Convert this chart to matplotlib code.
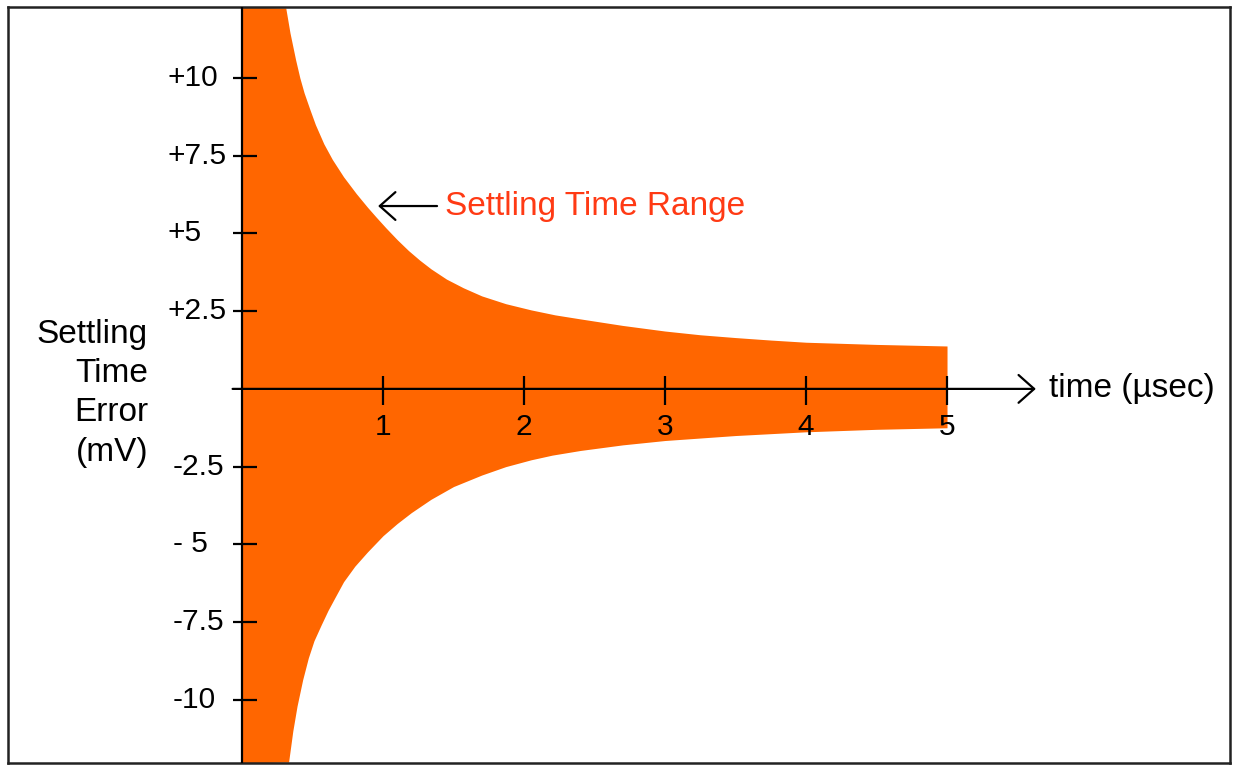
import matplotlib
matplotlib.use("Agg")
import matplotlib.pyplot as plt
import numpy as np

# ---- data ----
upper_t = [0.0, 0.31, 0.34, 0.38, 0.41, 0.44, 0.48, 0.52, 0.58, 0.64, 0.72,
           0.81, 0.89, 0.95, 1.02, 1.10, 1.18, 1.26, 1.34, 1.45, 1.57, 1.70,
           1.87, 2.05, 2.22, 2.40, 2.70, 3.0, 3.25, 3.5, 3.75, 4.0, 4.5, 5.0]
upper_v = [12.28, 12.25, 11.45, 10.58, 10.0, 9.52, 9.0, 8.5, 7.88, 7.38, 6.82,
           6.28, 5.84, 5.53, 5.18, 4.80, 4.45, 4.14, 3.86, 3.53, 3.25, 2.99,
           2.74, 2.54, 2.38, 2.25, 2.04, 1.86, 1.74, 1.65, 1.57, 1.50, 1.43, 1.38]
lower_t = [0.0, 0.33, 0.36, 0.39, 0.43, 0.47, 0.51, 0.56, 0.61, 0.66, 0.72,
           0.80, 0.89, 1.0, 1.1, 1.2, 1.34, 1.5, 1.7, 1.87, 2.05, 2.2, 2.4,
           2.7, 3.0, 3.5, 4.0, 4.5, 5.0]
lower_v = [-12.03, -12.0, -11.0, -10.2, -9.35, -8.65, -8.1, -7.6, -7.12, -6.7, -6.2,
           -5.7, -5.24, -4.72, -4.33, -3.98, -3.55, -3.14, -2.77, -2.50, -2.28, -2.13, -1.98,
           -1.80, -1.66, -1.5, -1.38, -1.3, -1.25]

x_ticks = [1, 2, 3, 4, 5]
x_tick_labels = ["1", "2", "3", "4", "5"]
y_ticks = [10, 7.5, 5, 2.5, -2.5, -5, -7.5, -10]
y_tick_labels = ["+10", "+7.5", "+5", "+2.5", "-2.5", "- 5", "-7.5", "-10"]

x_label = "time (\u00b5sec)"
y_label = "Settling\nTime\nError\n(mV)"
annotation = "Settling Time Range"

FILL = "#ff6600"
RED = "#ff3a14"
FONT = "Liberation Sans"

fig = plt.figure(figsize=(12.41, 7.65), dpi=100)
ax = fig.add_axes([8 / 1241, 2 / 765, 1222 / 1241, 756 / 765])
ax.set_xlim(-1.66, 7.007)
ax.set_ylim(-12.03, 12.28)
ax.set_xticks([])
ax.set_yticks([])
for s in ax.spines.values():
    s.set_linewidth(1.8)
    s.set_color("#222222")

# filled envelope
tt = np.union1d(upper_t, lower_t)
up = np.interp(tt, upper_t, upper_v)
lo = np.interp(tt, lower_t, lower_v)
ax.fill_between(tt, lo, up, color=FILL, linewidth=0, zorder=1)

# axes lines
ax.axvline(0, color="black", lw=1.6, zorder=3)
ax.annotate("", xy=(5.63, 0), xytext=(-0.067, 0),
            arrowprops=dict(arrowstyle="->,head_length=0.45,head_width=0.4",
                            lw=1.6, color="black", shrinkA=0, shrinkB=0,
                            mutation_scale=25), zorder=3)

# ticks
ax.hlines(y_ticks, -0.067, 0.108, color="black", lw=1.6, zorder=3)
ax.vlines(x_ticks, -0.51, 0.42, color="black", lw=1.6, zorder=3)

for v, lab in zip(y_ticks, y_tick_labels):
    xpos = -0.532 if v > 0 else -0.489
    ax.text(xpos, v, lab, ha="left", va="center", fontsize=21.5,
            family=FONT, color="black")
for t, lab in zip(x_ticks, x_tick_labels):
    ax.text(t, -1.22, lab, ha="center", va="center", fontsize=21.5,
            family=FONT, color="black")

ax.text(5.72, 0.0, x_label, ha="left", va="center", fontsize=24,
        family=FONT, color="black")
ax.text(-0.667, -0.145, y_label, ha="right", va="center", fontsize=24,
        family=FONT, color="black", multialignment="right", linespacing=1.34)

# annotation arrow and text
ax.annotate("", xy=(0.965, 5.88), xytext=(1.383, 5.88),
            arrowprops=dict(arrowstyle="->,head_length=0.45,head_width=0.4",
                            lw=1.6, color="black", shrinkA=0, shrinkB=0,
                            mutation_scale=25), zorder=3)
ax.text(1.44, 5.85, annotation, ha="left", va="center", fontsize=24,
        family=FONT, color=RED)

fig.savefig("out.png", dpi=100)
